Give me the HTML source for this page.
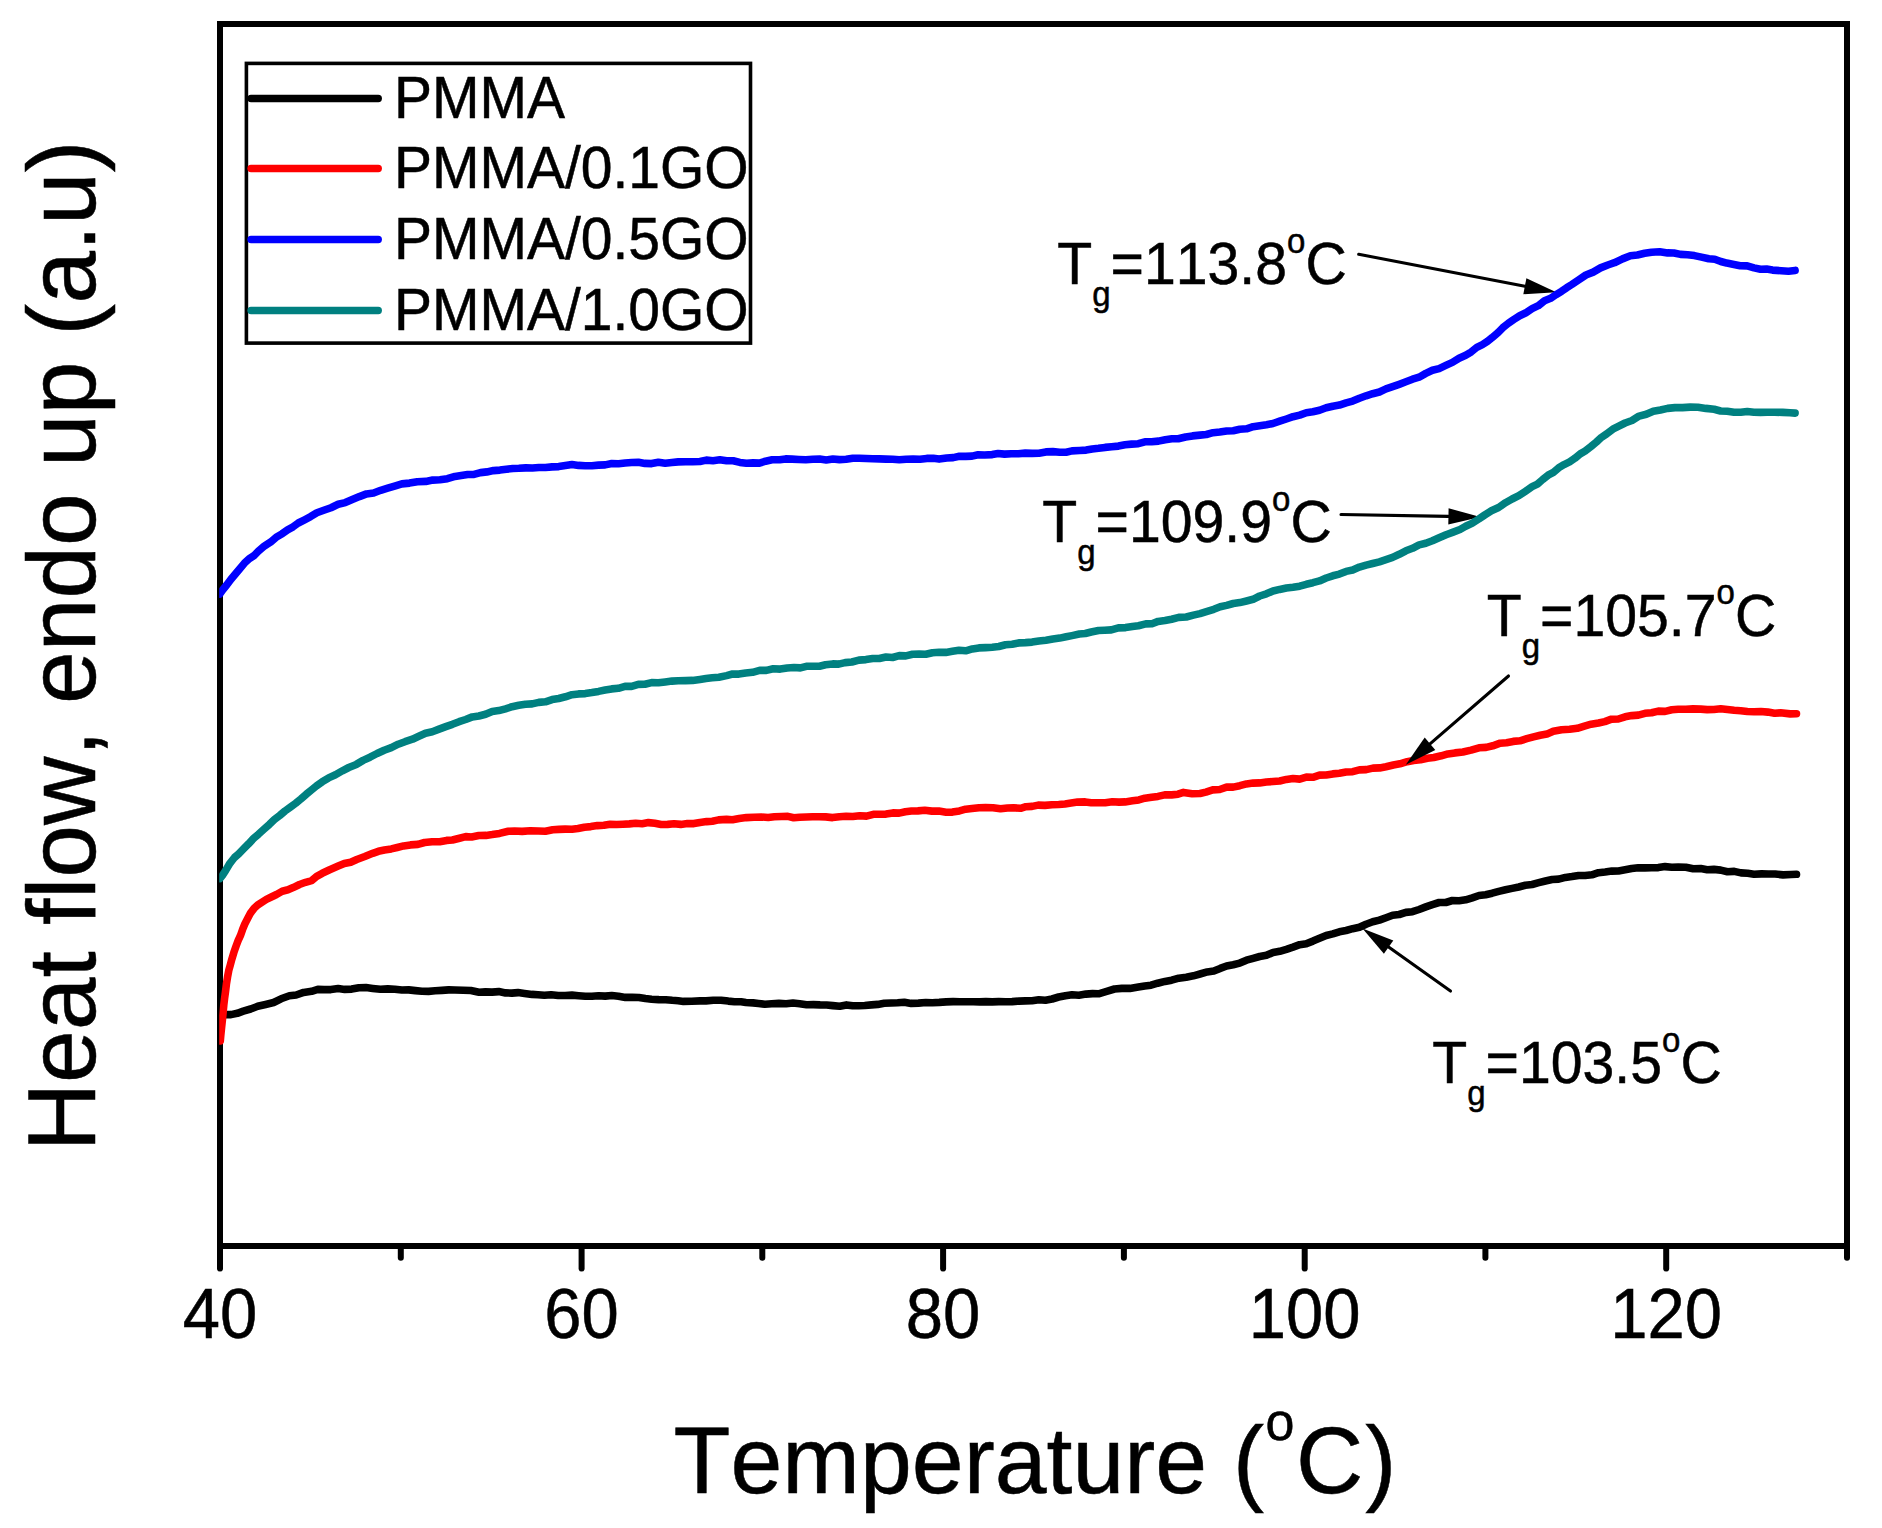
<!DOCTYPE html>
<html><head><meta charset="utf-8"><title>DSC</title>
<style>
html,body{margin:0;padding:0;background:#fff;}
svg{display:block;}
text{font-family:"Liberation Sans",Arial,sans-serif;fill:#000;font-kerning:none;stroke:#000;stroke-width:0.5px;}
</style></head><body>
<svg width="1882" height="1528" viewBox="0 0 1882 1528">
<rect x="0" y="0" width="1882" height="1528" fill="#fff"/>
<!-- frame -->
<rect x="220.0" y="24.0" width="1627.0" height="1222.0" fill="none" stroke="#000" stroke-width="6"/>
<line x1="220.0" y1="1246.0" x2="220.0" y2="1268.6" stroke="#000" stroke-width="6" stroke-linecap="round"/><line x1="400.8" y1="1246.0" x2="400.8" y2="1257.8" stroke="#000" stroke-width="6" stroke-linecap="round"/><line x1="581.6" y1="1246.0" x2="581.6" y2="1268.6" stroke="#000" stroke-width="6" stroke-linecap="round"/><line x1="762.3" y1="1246.0" x2="762.3" y2="1257.8" stroke="#000" stroke-width="6" stroke-linecap="round"/><line x1="943.1" y1="1246.0" x2="943.1" y2="1268.6" stroke="#000" stroke-width="6" stroke-linecap="round"/><line x1="1123.9" y1="1246.0" x2="1123.9" y2="1257.8" stroke="#000" stroke-width="6" stroke-linecap="round"/><line x1="1304.7" y1="1246.0" x2="1304.7" y2="1268.6" stroke="#000" stroke-width="6" stroke-linecap="round"/><line x1="1485.4" y1="1246.0" x2="1485.4" y2="1257.8" stroke="#000" stroke-width="6" stroke-linecap="round"/><line x1="1666.2" y1="1246.0" x2="1666.2" y2="1268.6" stroke="#000" stroke-width="6" stroke-linecap="round"/><line x1="1847.0" y1="1246.0" x2="1847.0" y2="1257.8" stroke="#000" stroke-width="6" stroke-linecap="round"/>
<text transform="translate(220.0,1338.2) scale(1.0,1.05)" font-size="67" text-anchor="middle">40</text><text transform="translate(581.6,1338.2) scale(1.0,1.05)" font-size="67" text-anchor="middle">60</text><text transform="translate(943.1,1338.2) scale(1.0,1.05)" font-size="67" text-anchor="middle">80</text><text transform="translate(1304.7,1338.2) scale(1.0,1.05)" font-size="67" text-anchor="middle">100</text><text transform="translate(1666.2,1338.2) scale(1.0,1.05)" font-size="67" text-anchor="middle">120</text>
<!-- curves -->
<line x1="1358.7" y1="254.3" x2="1524.9" y2="286.2" stroke="#000" stroke-width="3.1" stroke-linecap="round"/><polygon points="1556.3,292.2 1523.3,294.2 1526.4,278.2" fill="#000"/>
<line x1="1341.0" y1="514.5" x2="1448.4" y2="516.4" stroke="#000" stroke-width="3.1" stroke-linecap="round"/><polygon points="1480.4,517.0 1448.3,524.6 1448.6,508.3" fill="#000"/>
<clipPath id="cp"><rect x="219.2" y="24" width="1628" height="1222"/></clipPath>
<g clip-path="url(#cp)" fill="none" stroke-width="7.6" stroke-linejoin="round" stroke-linecap="round">
<path d="M221.0,1015.6 L226.0,1014.5 L231.0,1014.6 L237.3,1013.3 L243.3,1011.2 L250.6,1009.0 L257.7,1006.3 L265.6,1004.5 L273.6,1002.5 L281.1,998.8 L289.4,995.8 L296.2,995.0 L303.6,992.4 L311.6,991.3 L317.8,989.4 L324.1,989.6 L330.9,989.6 L338.2,988.6 L344.7,989.4 L351.7,989.1 L358.9,987.7 L366.0,987.6 L372.7,988.4 L380.4,989.2 L387.8,988.9 L394.9,989.2 L401.9,990.0 L408.7,989.9 L415.4,990.6 L421.9,991.2 L428.5,991.4 L435.2,990.8 L441.9,990.4 L448.6,989.9 L455.0,990.0 L463.1,990.2 L470.9,990.5 L479.0,992.2 L485.4,991.9 L492.1,992.1 L498.8,991.6 L505.5,992.9 L511.8,993.1 L518.0,992.6 L524.5,993.4 L532.1,994.4 L538.0,994.7 L544.4,995.2 L551.2,994.7 L558.2,995.5 L565.2,995.5 L572.0,995.1 L578.6,995.7 L585.3,996.2 L591.9,996.2 L598.5,995.8 L605.2,996.1 L611.8,995.5 L618.5,996.2 L625.4,997.4 L632.2,997.3 L638.9,997.5 L645.4,998.5 L651.6,999.2 L658.7,999.6 L665.7,999.7 L672.2,1000.3 L678.2,1000.7 L683.5,1001.4 L691.6,1001.2 L700.0,1000.9 L706.0,1000.9 L713.3,1000.2 L721.0,1000.2 L728.3,1001.1 L734.5,1001.7 L741.1,1001.8 L745.9,1002.5 L753.1,1002.9 L758.5,1003.5 L764.8,1004.2 L771.7,1003.8 L778.9,1003.4 L786.1,1003.8 L793.0,1003.0 L799.7,1003.7 L806.6,1004.7 L813.4,1004.6 L820.1,1004.9 L826.6,1005.0 L832.8,1005.6 L839.8,1006.2 L846.4,1004.9 L852.7,1005.8 L858.8,1005.7 L864.7,1005.5 L871.5,1004.9 L877.8,1004.4 L884.2,1003.3 L891.3,1003.0 L897.6,1002.7 L904.3,1002.2 L911.2,1003.4 L918.4,1003.1 L925.8,1002.5 L932.3,1002.7 L939.2,1002.4 L946.2,1001.9 L953.2,1001.6 L959.8,1001.7 L965.7,1001.7 L973.3,1001.8 L979.8,1001.9 L985.9,1001.6 L992.2,1001.9 L998.8,1001.6 L1005.5,1001.7 L1012.1,1001.6 L1018.8,1001.1 L1025.4,1000.9 L1032.1,1000.8 L1038.8,999.8 L1045.4,1000.2 L1052.1,999.0 L1058.7,997.0 L1065.4,995.7 L1072.0,994.7 L1078.9,995.2 L1085.9,994.1 L1092.6,993.6 L1098.5,993.8 L1106.7,991.4 L1114.5,989.0 L1121.8,988.4 L1129.9,988.4 L1138.4,987.0 L1144.7,986.0 L1151.0,985.2 L1157.7,983.2 L1165.0,981.4 L1171.6,980.2 L1178.8,978.2 L1186.2,977.2 L1193.4,975.8 L1200.0,974.0 L1207.2,971.9 L1213.8,971.0 L1220.2,968.4 L1226.6,966.0 L1233.2,964.7 L1239.8,963.1 L1246.5,960.2 L1253.1,958.3 L1259.7,956.5 L1266.4,955.3 L1273.0,952.5 L1279.7,951.3 L1286.4,949.3 L1293.0,947.1 L1299.7,944.7 L1306.3,943.7 L1312.9,941.1 L1319.5,938.3 L1326.2,935.5 L1332.8,933.9 L1339.4,931.8 L1346.1,930.5 L1352.7,928.7 L1359.4,927.3 L1366.1,924.2 L1372.7,921.8 L1379.4,920.1 L1386.0,917.7 L1392.6,915.2 L1399.2,914.5 L1405.9,912.4 L1412.5,911.7 L1419.1,909.5 L1425.8,906.9 L1432.4,904.6 L1439.1,902.5 L1445.8,902.5 L1452.4,900.5 L1459.1,900.7 L1465.7,899.8 L1472.3,897.8 L1479.0,895.5 L1485.6,894.7 L1492.2,893.2 L1498.8,891.4 L1505.5,889.8 L1512.1,888.4 L1518.8,887.0 L1525.4,885.3 L1532.1,884.5 L1538.8,882.7 L1545.4,881.0 L1552.1,879.5 L1558.7,879.1 L1565.4,877.4 L1572.0,876.6 L1578.6,875.5 L1585.2,875.5 L1591.9,874.8 L1598.5,872.7 L1605.1,872.0 L1611.8,871.1 L1618.5,871.0 L1625.1,869.8 L1631.7,868.5 L1638.3,867.7 L1645.0,867.9 L1651.6,867.8 L1658.3,867.6 L1665.1,866.6 L1671.8,867.2 L1678.2,867.1 L1685.9,867.3 L1693.1,868.8 L1700.8,868.5 L1707.2,869.7 L1713.9,869.4 L1720.7,870.1 L1727.4,871.7 L1734.2,871.4 L1741.0,872.9 L1747.7,873.3 L1754.0,874.2 L1761.5,873.9 L1768.3,874.0 L1775.2,874.0 L1783.1,874.9 L1791.0,874.5 L1796.5,874.3" stroke="#000"/>
<path d="M219.9,878.5 L222.3,875.6 L225.7,870.4 L229.9,863.3 L234.5,857.5 L238.7,853.9 L243.5,848.9 L248.6,843.8 L253.6,838.4 L258.4,834.3 L263.9,829.3 L269.2,824.6 L274.4,819.6 L279.7,815.5 L285.0,811.0 L290.4,807.1 L295.7,803.2 L301.0,798.9 L306.2,794.3 L311.3,790.1 L316.5,785.9 L322.2,781.8 L328.6,777.9 L335.5,774.7 L342.4,770.8 L348.8,767.5 L356.3,764.4 L363.1,760.4 L370.0,757.2 L377.1,753.5 L384.2,750.2 L391.3,747.6 L398.2,744.2 L405.0,741.7 L412.5,739.2 L418.8,736.3 L425.5,733.2 L432.3,731.7 L439.1,729.1 L445.8,726.6 L452.4,724.3 L459.1,721.7 L465.7,719.5 L472.3,716.9 L478.9,716.0 L485.6,714.3 L492.2,711.5 L498.8,710.6 L505.5,708.8 L512.1,706.7 L518.8,705.3 L525.4,704.2 L532.1,703.9 L538.8,702.4 L545.4,701.8 L552.1,699.6 L558.7,698.5 L565.4,696.8 L572.0,694.7 L578.6,693.9 L585.3,693.6 L591.9,692.6 L598.5,691.4 L605.1,690.0 L611.7,688.9 L618.4,688.3 L625.0,686.4 L631.6,686.4 L638.3,684.4 L644.9,684.3 L651.6,682.6 L658.4,682.8 L665.2,681.9 L671.9,681.1 L678.2,680.7 L685.6,680.6 L692.6,680.4 L700.0,679.4 L706.0,678.5 L712.2,677.8 L718.9,677.2 L726.6,675.6 L732.5,674.0 L738.9,674.1 L745.7,673.0 L752.6,672.3 L759.6,670.4 L766.4,670.4 L773.2,668.8 L780.2,669.1 L787.2,668.0 L794.0,667.5 L800.4,667.9 L806.3,666.3 L813.6,666.3 L819.5,666.2 L825.5,664.8 L832.8,663.9 L838.7,664.1 L845.1,662.6 L851.9,662.0 L858.9,660.1 L865.9,659.6 L872.7,658.5 L879.3,658.5 L886.0,657.0 L892.6,657.5 L899.2,655.6 L905.9,655.9 L912.5,654.3 L919.1,654.1 L925.8,654.3 L932.4,652.8 L939.1,652.3 L945.8,652.4 L952.4,651.3 L959.0,650.2 L965.7,650.8 L972.3,648.9 L978.9,647.9 L985.6,647.6 L992.2,647.2 L998.8,646.5 L1005.5,644.8 L1012.1,644.2 L1018.8,642.9 L1025.4,642.6 L1032.1,642.1 L1038.9,641.0 L1045.9,640.2 L1052.9,639.0 L1059.7,638.1 L1066.1,636.8 L1072.0,635.6 L1079.3,634.0 L1085.2,633.5 L1091.2,632.0 L1098.5,630.5 L1104.5,630.2 L1111.3,629.9 L1118.4,627.9 L1125.6,627.6 L1132.4,626.5 L1138.4,625.7 L1145.8,623.9 L1152.0,623.7 L1158.1,621.4 L1165.0,620.5 L1171.6,619.2 L1178.8,617.4 L1186.2,617.0 L1193.4,615.1 L1200.0,613.6 L1207.2,611.4 L1213.8,609.3 L1220.2,606.8 L1226.6,605.4 L1233.2,603.5 L1239.8,602.6 L1246.5,601.0 L1253.1,599.3 L1259.7,596.0 L1266.4,593.8 L1273.0,591.0 L1279.7,589.4 L1286.4,588.1 L1293.0,587.3 L1299.7,586.2 L1306.3,584.3 L1312.9,582.7 L1319.5,580.9 L1326.2,578.0 L1332.8,575.8 L1339.4,574.1 L1346.1,571.4 L1352.7,570.0 L1359.4,567.1 L1366.1,565.1 L1372.7,563.5 L1379.4,561.9 L1386.0,559.7 L1392.6,557.4 L1399.2,554.3 L1405.9,550.8 L1412.5,548.3 L1419.1,544.9 L1425.8,543.3 L1432.4,540.8 L1439.1,537.8 L1446.1,534.7 L1453.2,532.1 L1460.0,529.5 L1465.7,526.3 L1472.4,523.1 L1479.0,518.9 L1484.7,515.0 L1491.4,510.8 L1498.6,507.5 L1505.5,502.7 L1512.1,499.0 L1518.8,495.7 L1525.4,491.3 L1532.1,486.7 L1537.4,484.1 L1542.7,479.5 L1548.1,475.2 L1553.4,472.3 L1558.7,467.8 L1564.1,464.6 L1569.6,461.9 L1575.0,458.2 L1580.2,453.9 L1585.2,451.0 L1591.0,446.5 L1596.3,442.1 L1601.5,437.3 L1606.5,434.0 L1612.8,429.2 L1618.8,426.1 L1625.1,423.0 L1632.0,420.5 L1639.1,416.1 L1646.3,414.3 L1653.3,411.3 L1660.4,410.0 L1667.6,408.4 L1675.0,407.6 L1682.5,407.6 L1690.2,407.1 L1698.0,407.3 L1705.9,408.4 L1714.1,409.3 L1720.6,411.0 L1727.2,411.3 L1734.0,412.3 L1740.7,412.3 L1747.3,411.5 L1753.9,412.3 L1760.5,412.4 L1767.2,412.3 L1774.7,412.2 L1782.8,412.4 L1790.1,412.8 L1795.1,413.1" stroke="#008080"/>
<path d="M219.9,593.9 L222.6,590.0 L226.5,585.3 L231.0,579.2 L235.6,573.7 L239.8,568.8 L244.5,563.1 L249.2,558.7 L253.8,555.8 L258.4,551.1 L264.5,545.9 L270.6,542.1 L277.0,536.7 L282.2,533.7 L287.6,529.8 L293.1,526.8 L298.3,523.0 L304.6,519.8 L310.6,516.6 L316.9,512.8 L323.8,510.3 L331.0,507.7 L338.2,504.3 L345.3,502.6 L352.3,499.6 L359.4,496.6 L366.5,493.9 L373.6,493.0 L380.7,490.3 L387.7,488.2 L394.6,486.1 L401.9,483.9 L409.5,483.1 L417.3,481.7 L425.8,481.4 L432.7,480.1 L439.9,479.8 L447.4,478.7 L455.0,476.4 L461.2,475.5 L467.6,474.5 L474.0,474.4 L480.5,472.6 L486.9,471.9 L493.4,470.6 L499.9,470.1 L506.4,469.2 L512.8,468.5 L518.8,468.3 L525.8,467.9 L532.4,468.0 L538.9,467.5 L545.4,467.5 L552.1,466.9 L558.7,466.6 L565.4,465.6 L572.0,464.5 L578.6,465.4 L585.2,465.7 L591.9,465.7 L598.5,465.1 L605.1,464.9 L611.8,463.5 L618.5,463.8 L625.1,463.0 L631.7,462.5 L638.4,462.2 L645.0,463.4 L651.6,463.6 L658.4,462.3 L665.2,463.2 L671.9,462.5 L678.2,461.9 L685.6,461.7 L692.6,461.8 L700.0,461.5 L706.3,460.1 L713.0,460.7 L719.8,459.8 L726.6,460.8 L733.2,460.8 L739.9,462.4 L746.5,463.3 L753.1,462.9 L759.4,463.1 L765.6,461.2 L772.1,459.8 L779.7,459.8 L785.6,458.9 L792.0,459.1 L798.8,459.5 L805.8,459.8 L812.8,459.3 L819.6,459.1 L826.2,460.0 L832.9,459.0 L839.5,459.6 L846.1,459.3 L852.8,458.3 L859.4,458.3 L866.0,458.5 L872.7,458.8 L879.4,458.9 L886.0,459.1 L892.7,459.3 L899.3,459.8 L906.1,459.2 L913.1,459.0 L920.0,459.3 L926.8,458.4 L933.2,458.3 L939.1,459.1 L946.7,458.0 L953.2,457.6 L959.4,456.3 L965.7,456.4 L972.0,456.1 L978.1,454.7 L984.6,455.0 L992.2,454.6 L998.1,453.5 L1004.5,454.1 L1011.3,453.7 L1018.3,453.8 L1025.3,453.1 L1032.1,453.4 L1038.9,453.2 L1045.9,451.9 L1052.9,451.6 L1059.7,452.2 L1066.1,452.2 L1072.0,450.9 L1079.6,450.5 L1086.1,450.1 L1092.2,449.0 L1098.5,448.3 L1105.1,447.4 L1111.7,446.7 L1118.4,446.1 L1125.0,444.8 L1131.6,444.1 L1138.3,443.7 L1144.9,441.8 L1151.6,441.7 L1158.4,441.1 L1165.2,439.7 L1171.9,438.8 L1178.2,438.8 L1185.6,437.0 L1192.6,435.9 L1200.0,435.1 L1206.3,434.5 L1213.0,432.7 L1219.8,432.0 L1226.6,431.0 L1233.2,430.7 L1239.8,429.2 L1246.5,428.8 L1253.1,426.7 L1259.7,425.7 L1266.4,424.7 L1273.0,423.5 L1279.7,421.2 L1286.4,419.0 L1293.0,416.7 L1299.7,415.1 L1306.3,412.7 L1312.9,411.8 L1319.5,410.3 L1326.2,407.8 L1332.8,406.2 L1339.4,405.1 L1346.1,402.9 L1352.7,401.1 L1359.4,398.3 L1366.1,395.8 L1372.7,393.7 L1379.4,392.0 L1386.0,388.9 L1392.6,386.6 L1399.2,384.3 L1405.9,381.8 L1412.5,379.2 L1419.1,377.2 L1425.8,373.4 L1432.4,370.3 L1439.1,368.6 L1445.8,365.4 L1452.4,362.4 L1459.1,358.2 L1465.7,355.2 L1471.2,351.9 L1476.8,347.4 L1482.4,344.6 L1487.6,341.2 L1492.2,337.6 L1498.0,332.6 L1502.7,327.8 L1508.2,323.4 L1513.6,319.6 L1519.7,315.7 L1525.9,312.8 L1532.1,308.7 L1538.3,305.7 L1544.5,300.8 L1550.6,298.3 L1556.0,294.7 L1561.7,291.2 L1566.6,287.8 L1572.0,284.4 L1578.7,279.9 L1585.9,275.0 L1593.2,272.1 L1600.5,267.9 L1607.8,265.0 L1614.5,262.7 L1622.5,258.9 L1630.4,255.8 L1637.3,255.0 L1644.7,253.3 L1651.6,252.2 L1659.7,251.7 L1667.6,252.9 L1673.9,253.0 L1680.6,254.4 L1687.5,254.8 L1694.4,255.6 L1701.5,257.1 L1708.8,258.8 L1714.7,259.2 L1720.8,261.5 L1726.8,263.1 L1732.7,264.2 L1740.1,265.7 L1747.2,265.9 L1754.0,267.9 L1760.5,269.3 L1766.6,269.1 L1772.5,270.1 L1781.2,270.7 L1788.5,271.2 L1795.1,270.4" stroke="#00f"/>
<path d="M220.3,1041.0 L220.8,1035.2 L221.6,1027.3 L222.4,1019.9 L223.1,1012.4 L223.8,1005.1 L224.6,998.4 L225.5,991.7 L226.4,984.2 L227.5,977.3 L228.8,970.3 L230.3,964.9 L231.8,959.3 L233.9,952.3 L236.1,946.0 L238.2,940.4 L240.4,935.7 L242.5,929.7 L244.8,924.0 L247.5,918.8 L250.5,913.1 L253.9,908.6 L257.7,905.0 L266.4,899.4 L271.3,897.0 L276.5,894.5 L282.2,891.3 L288.0,889.8 L293.7,887.3 L299.5,884.5 L305.6,882.3 L311.6,880.7 L316.7,876.3 L322.2,873.3 L329.7,869.8 L338.2,866.1 L344.3,863.5 L350.7,862.2 L356.8,859.5 L364.8,856.5 L372.7,853.3 L378.4,851.3 L384.4,850.0 L391.3,848.9 L397.2,847.5 L403.6,845.9 L410.5,844.9 L417.9,844.4 L424.6,842.5 L432.1,841.7 L439.7,841.7 L446.7,840.4 L452.4,840.0 L459.5,838.2 L465.7,836.6 L471.6,837.0 L478.8,835.5 L486.0,835.4 L492.2,834.6 L499.5,833.4 L508.2,831.2 L514.5,831.0 L522.1,831.4 L530.3,830.7 L538.3,831.0 L545.4,831.3 L552.7,829.8 L559.0,829.4 L565.2,829.1 L572.0,829.3 L578.0,828.5 L584.3,827.2 L590.8,826.6 L597.4,825.6 L603.8,825.3 L610.2,824.2 L616.6,824.5 L622.9,824.2 L629.3,823.9 L635.7,823.3 L642.1,823.7 L648.4,822.6 L654.8,823.3 L661.2,824.5 L667.6,824.4 L674.1,823.8 L680.8,824.4 L687.4,823.6 L693.9,823.6 L700.0,822.4 L706.6,821.6 L712.3,821.2 L718.6,819.9 L726.6,819.4 L732.5,819.8 L739.2,818.5 L746.4,817.6 L753.9,817.2 L761.3,817.0 L768.2,817.5 L774.4,816.7 L781.7,816.5 L787.9,816.4 L793.7,817.8 L799.7,817.2 L806.3,817.0 L812.5,816.8 L819.0,816.8 L825.7,816.9 L832.5,817.6 L839.4,816.7 L846.1,816.3 L852.8,816.5 L859.7,815.7 L866.5,816.1 L873.3,814.3 L879.8,814.3 L886.0,814.1 L892.9,812.9 L899.2,813.1 L905.3,811.8 L911.5,811.0 L917.9,810.9 L924.8,810.3 L931.9,811.1 L939.0,811.1 L946.0,812.2 L952.4,812.1 L959.4,810.9 L965.7,809.2 L972.0,808.5 L979.0,807.7 L985.6,807.6 L993.0,807.7 L1000.5,808.8 L1007.5,808.0 L1013.5,807.8 L1020.6,808.3 L1025.9,806.7 L1032.1,806.4 L1038.2,805.1 L1044.9,805.4 L1051.9,804.7 L1058.7,804.5 L1065.0,804.0 L1071.1,803.1 L1077.6,802.1 L1085.2,801.9 L1091.2,802.7 L1098.0,802.7 L1105.2,802.7 L1112.3,801.8 L1119.1,802.1 L1125.1,801.9 L1132.5,800.8 L1138.8,799.9 L1144.9,798.2 L1151.6,797.2 L1157.9,796.4 L1164.7,794.9 L1171.6,794.9 L1178.0,794.2 L1183.5,792.4 L1192.1,793.7 L1200.0,793.5 L1205.9,792.1 L1212.7,789.9 L1219.7,789.5 L1226.6,787.1 L1233.2,787.1 L1239.8,785.7 L1246.5,783.9 L1253.1,783.1 L1259.7,782.9 L1266.4,782.0 L1273.0,781.5 L1279.7,781.0 L1286.4,779.4 L1293.0,778.5 L1299.7,779.1 L1306.3,777.1 L1312.9,777.3 L1319.5,775.1 L1326.2,775.0 L1332.8,773.9 L1339.4,773.2 L1346.1,772.0 L1352.7,771.7 L1359.4,769.9 L1366.2,769.6 L1373.0,768.1 L1379.7,767.9 L1386.0,766.7 L1393.3,765.0 L1399.9,763.8 L1407.2,761.7 L1413.6,760.5 L1420.5,759.8 L1427.4,758.3 L1433.8,757.5 L1441.2,755.8 L1447.9,753.9 L1455.0,752.9 L1462.9,752.0 L1471.1,750.1 L1479.0,747.8 L1486.1,747.4 L1492.8,745.8 L1500.2,743.2 L1506.5,742.7 L1513.2,741.4 L1520.0,740.8 L1526.8,738.7 L1533.5,736.9 L1540.2,735.3 L1546.9,734.1 L1553.3,731.2 L1561.6,729.7 L1569.6,729.3 L1577.3,728.3 L1584.4,726.1 L1591.1,724.2 L1598.5,723.0 L1604.8,721.6 L1611.5,719.2 L1618.3,719.0 L1625.1,716.8 L1631.7,715.6 L1638.3,715.1 L1645.0,713.3 L1651.6,712.8 L1658.3,711.1 L1665.1,711.4 L1671.8,709.8 L1678.2,709.3 L1685.9,709.3 L1693.1,708.9 L1700.8,709.1 L1707.2,709.6 L1713.9,709.5 L1720.7,708.8 L1727.4,709.5 L1734.1,710.3 L1740.7,710.7 L1747.4,711.5 L1754.0,711.7 L1760.9,711.5 L1767.9,712.1 L1774.6,713.2 L1780.5,712.8 L1790.2,713.9 L1796.5,713.8" stroke="#f00"/>
</g>
<!-- legend -->
<rect x="246.4" y="63.4" width="504.1" height="279.7" fill="#fff" stroke="#000" stroke-width="3.6"/>
<line x1="251" y1="98.5" x2="378.3" y2="98.5" stroke="#000" stroke-width="7.3" stroke-linecap="round"/><text transform="translate(394,118.0) scale(1.0,1.04)" font-size="57" text-anchor="start">PMMA</text><line x1="251" y1="168.5" x2="378.3" y2="168.5" stroke="#f00" stroke-width="7.3" stroke-linecap="round"/><text transform="translate(394,188.0) scale(1.0,1.04)" font-size="57" text-anchor="start">PMMA/0.1GO</text><line x1="251" y1="239.5" x2="378.3" y2="239.5" stroke="#00f" stroke-width="7.3" stroke-linecap="round"/><text transform="translate(394,259.0) scale(1.0,1.04)" font-size="57" text-anchor="start">PMMA/0.5GO</text><line x1="251" y1="310.5" x2="378.3" y2="310.5" stroke="#008080" stroke-width="7.3" stroke-linecap="round"/><text transform="translate(394,330.0) scale(1.0,1.04)" font-size="57" text-anchor="start">PMMA/1.0GO</text>
<!-- annotations -->
<text transform="translate(1057.2,284.2) scale(1.0,1.045)" font-size="57.2" text-anchor="start">T<tspan font-size="33" dy="21">g</tspan><tspan dy="-21">=113.8</tspan><tspan font-size="33" dy="-30">o</tspan><tspan dy="30">C</tspan></text>
<text transform="translate(1042.2,542) scale(1.0,1.045)" font-size="57.2" text-anchor="start">T<tspan font-size="33" dy="21">g</tspan><tspan dy="-21">=109.9</tspan><tspan font-size="33" dy="-30">o</tspan><tspan dy="30">C</tspan></text>
<text transform="translate(1486.7,635.6) scale(1.0,1.045)" font-size="57.2" text-anchor="start">T<tspan font-size="33" dy="21">g</tspan><tspan dy="-21">=105.7</tspan><tspan font-size="33" dy="-30">o</tspan><tspan dy="30">C</tspan></text>
<text transform="translate(1432.2,1083.4) scale(1.0,1.045)" font-size="57.2" text-anchor="start">T<tspan font-size="33" dy="21">g</tspan><tspan dy="-21">=103.5</tspan><tspan font-size="33" dy="-30">o</tspan><tspan dy="30">C</tspan></text>
<line x1="1508.5" y1="676.0" x2="1430.0" y2="743.8" stroke="#000" stroke-width="3.1" stroke-linecap="round"/><polygon points="1405.8,764.7 1424.7,737.6 1435.3,750.0" fill="#000"/>
<line x1="1450.5" y1="991.0" x2="1388.6" y2="947.1" stroke="#000" stroke-width="3.1" stroke-linecap="round"/><polygon points="1362.5,928.6 1393.3,940.5 1383.9,953.8" fill="#000"/>
<!-- titles -->
<text transform="translate(673.6,1492.8) scale(1.0,1.02)" font-size="93.2" text-anchor="start">Temperature (<tspan font-size="52" dy="-51.8" dx="1.5">o</tspan><tspan dy="51.8" dx="1.5">C</tspan><tspan dx="2">)</tspan></text>
<text transform="translate(95.3,1151.3) rotate(-90) scale(1.0,1.02)" font-size="94.7" text-anchor="start">Heat flow, endo up (a.u)</text>
</svg>
</body></html>
